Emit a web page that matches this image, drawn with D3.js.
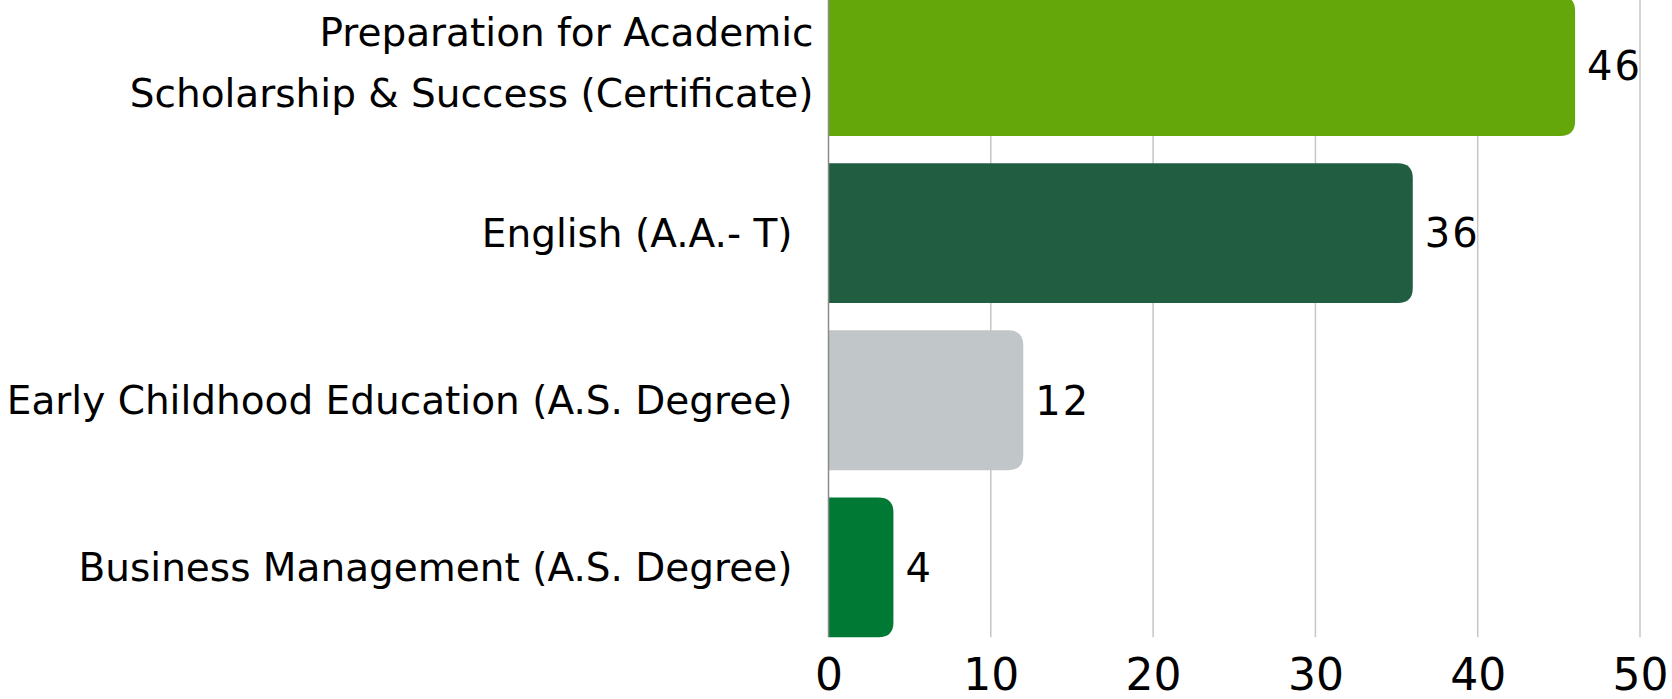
<!DOCTYPE html>
<html>
<head>
<meta charset="utf-8">
<script src="https://cdn.jsdelivr.net/npm/d3@7"></script>
<style>
  html, body { margin: 0; padding: 0; background: #ffffff; }
  svg { display: block; }
  text { font-family: "DejaVu Sans", "Liberation Sans", Arial, sans-serif; fill: #000; }
</style>
</head>
<body>
<svg id="chart" width="1672" height="699"></svg>
<script>
// ---- data ----
const categories = [
  "Preparation for Academic\nScholarship & Success (Certificate)",
  "English (A.A.- T)",
  "Early Childhood Education (A.S. Degree)",
  "Business Management (A.S. Degree)"
];
const values = [46, 36, 12, 4];
const barColors = ["#64a70b", "#215e41", "#c1c6c8", "#007934"];
const xTicks = [0, 10, 20, 30, 40, 50];

// ---- layout ----
const x0 = 828.5, x1 = 1640;
const yTop = -4, yBottom = 637.3;
const FONT = "'DejaVu Sans', 'Liberation Sans', Arial, sans-serif";

const svg = d3.select("#chart");

const x = d3.scaleLinear().domain([0, 50]).range([x0, x1]);
const y = d3.scaleBand().domain(categories).range([yTop, yBottom])
  .paddingInner(0.163).paddingOuter(0);

// gridlines
svg.append("g").selectAll("line")
  .data(xTicks.filter(d => d !== 0))
  .join("line")
  .attr("x1", d => x(d)).attr("x2", d => x(d))
  .attr("y1", 0).attr("y2", yBottom)
  .attr("stroke", "#c6c6c6").attr("stroke-width", 1.5);

// bars with rounded right corners
const r = 15;
function barPath(d, i) {
  const xs = x(0), xe = x(values[i]);
  const yt = y(d), yb = y(d) + y.bandwidth();
  const rr = Math.min(r, (xe - xs) / 2);
  return `M${xs},${yt} H${xe - rr} Q${xe},${yt} ${xe},${yt + rr} V${yb - rr} Q${xe},${yb} ${xe - rr},${yb} H${xs} Z`;
}
svg.append("g").selectAll("path")
  .data(categories)
  .join("path")
  .attr("d", barPath)
  .attr("fill", (d, i) => barColors[i]);

// axis line at 0
svg.append("line")
  .attr("x1", x(0)).attr("x2", x(0))
  .attr("y1", 0).attr("y2", yBottom)
  .attr("stroke", "#8a8a8a").attr("stroke-width", 1.5);

// value labels
svg.append("g").selectAll("text")
  .data(categories)
  .join("text")
  .attr("x", (d, i) => x(values[i]) + 12)
  .attr("y", d => y(d) + y.bandwidth() / 2)
  .attr("dy", "0.36em")
  .attr("font-size", 40)
  .attr("letter-spacing", 2)
  .text((d, i) => values[i]);

// x tick labels via d3 axis
const xAxis = d3.axisBottom(x).tickValues(xTicks).tickSize(0).tickPadding(0);
const gx = svg.append("g").attr("transform", `translate(0, 658)`).call(xAxis);
gx.select(".domain").remove();
gx.selectAll("text")
  .attr("font-size", 44)
  .attr("font-family", FONT)
  .attr("fill", "#000")
  .attr("dy", "0.72em");

// category labels
const lineGap = 61;
svg.append("g").selectAll("text")
  .data(categories)
  .join("text")
  .attr("text-anchor", "end")
  .attr("font-size", 39)
  .each(function(d) {
    const lines = d.split("\n");
    const cy = y(d) + y.bandwidth() / 2 - (lines.length > 1 ? 3 : 0);
    const ax = lines.length > 1 ? x0 - 15 : x0 - 36;
    const sel = d3.select(this);
    lines.forEach((ln, k) => {
      sel.append("tspan")
        .attr("x", ax)
        .attr("y", cy + (k - (lines.length - 1) / 2) * lineGap)
        .attr("dy", "0.36em")
        .text(ln);
    });
  });
</script>
</body>
</html>
